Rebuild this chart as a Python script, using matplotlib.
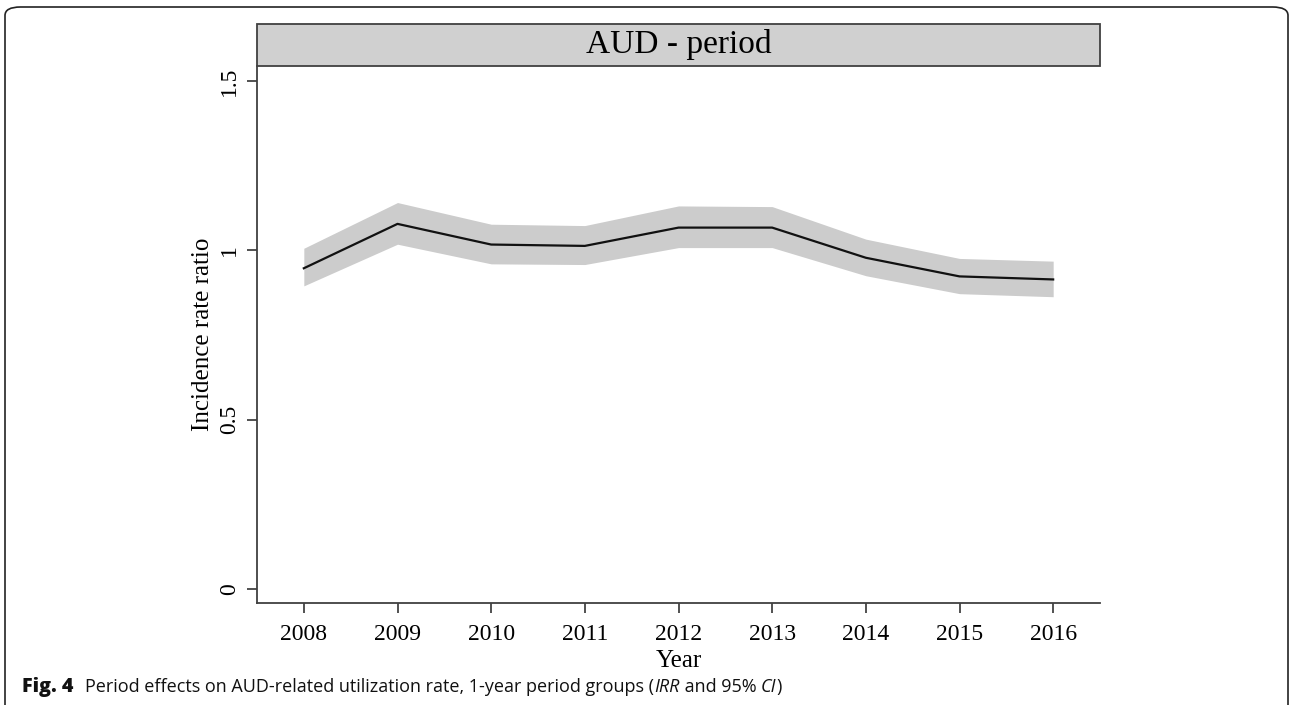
import matplotlib.pyplot as plt
from matplotlib.patches import FancyBboxPatch, Rectangle

years = [2008, 2009, 2010, 2011, 2012, 2013, 2014, 2015, 2016]
irr = [0.947, 1.078, 1.017, 1.013, 1.067, 1.067, 0.978, 0.923, 0.914]
ci_low = [0.895, 1.018, 0.960, 0.958, 1.008, 1.008, 0.925, 0.872, 0.863]
ci_high = [1.006, 1.141, 1.077, 1.073, 1.131, 1.129, 1.033, 0.976, 0.968]
y_ticks = [0, 0.5, 1, 1.5]
y_tick_labels = ["0", "0.5", "1", "1.5"]

W, H = 1290, 705
fig = plt.figure(figsize=(W / 100, H / 100), dpi=100)
serif = "Liberation Serif"

# axes placed in pixel coordinates
left, right, top, bottom = 257, 1100, 66, 603
ax = fig.add_axes([left / W, 1 - bottom / H, (right - left) / W, (bottom - top) / H])

ax.fill_between(years, ci_low, ci_high, color="#cccccc", linewidth=0)
ax.plot(years, irr, color="#111111", linewidth=1.6)

ax.set_xlim(2007.5, 2016.5)
ax.set_ylim(-0.041, 1.544)
ax.set_xticks(years)
ax.set_xticklabels([str(y) for y in years], fontsize=17, family=serif)
ax.set_yticks(y_ticks)
ax.set_yticklabels(y_tick_labels, fontsize=17, family=serif, rotation=90, va="center")
ax.tick_params(axis="both", length=7, width=1.2, color="#333333")
ax.tick_params(axis="x", pad=8)
ax.tick_params(axis="y", pad=5)

for side in ["top", "right"]:
    ax.spines[side].set_visible(False)
for side in ["left", "bottom"]:
    ax.spines[side].set_color("#404040")
    ax.spines[side].set_linewidth(1.3)

ax.set_ylabel("Incidence rate ratio", fontsize=18, family=serif, labelpad=4)
fig.text((left + right) / 2 / W, 1 - 661 / H, "Year", fontsize=18, family=serif,
         ha="center", va="center")

# header strip
strip = Rectangle((left / W, 1 - top / H), (right - left) / W, (top - 24) / H,
                  transform=fig.transFigure, facecolor="#d0d0d0",
                  edgecolor="#404040", linewidth=1.3)
fig.patches.append(strip)
fig.text((left + right) / 2 / W, 1 - 45 / H, "AUD - period", fontsize=24,
         family=serif, ha="center", va="center")

# outer frame
frame = FancyBboxPatch((5 / W, -0.05), (W - 7) / W, 1 - 7 / H + 0.05,
                       boxstyle="round,pad=0,rounding_size=0.012",
                       transform=fig.transFigure, facecolor="none",
                       edgecolor="#222222", linewidth=1.2)
fig.patches.append(frame)

# caption, built piece by piece
pieces = [
    ("Fig. 4", "heavy", "normal", 12, 14.2),
    ("Period effects on AUD-related utilization rate, 1-year period groups (", "normal", "normal", 0, 13.0),
    ("IRR", "normal", "italic", 0, 13.0),
    (" and 95% ", "normal", "normal", 0, 13.0),
    ("CI", "normal", "italic", 0, 13.0),
    (")", "normal", "normal", 0, 13.0),
]
renderer = fig.canvas.get_renderer()
x = 22
for txt, weight, style, gap, size in pieces:
    t = fig.text(x / W, 1 - 692 / H, txt, fontsize=size, family="Open Sans",
                 fontweight=weight, fontstyle=style, ha="left", va="baseline",
                 color="#111111")
    bb = t.get_window_extent(renderer=renderer)
    x = bb.x1 + gap

plt.savefig("out.png", dpi=100)
